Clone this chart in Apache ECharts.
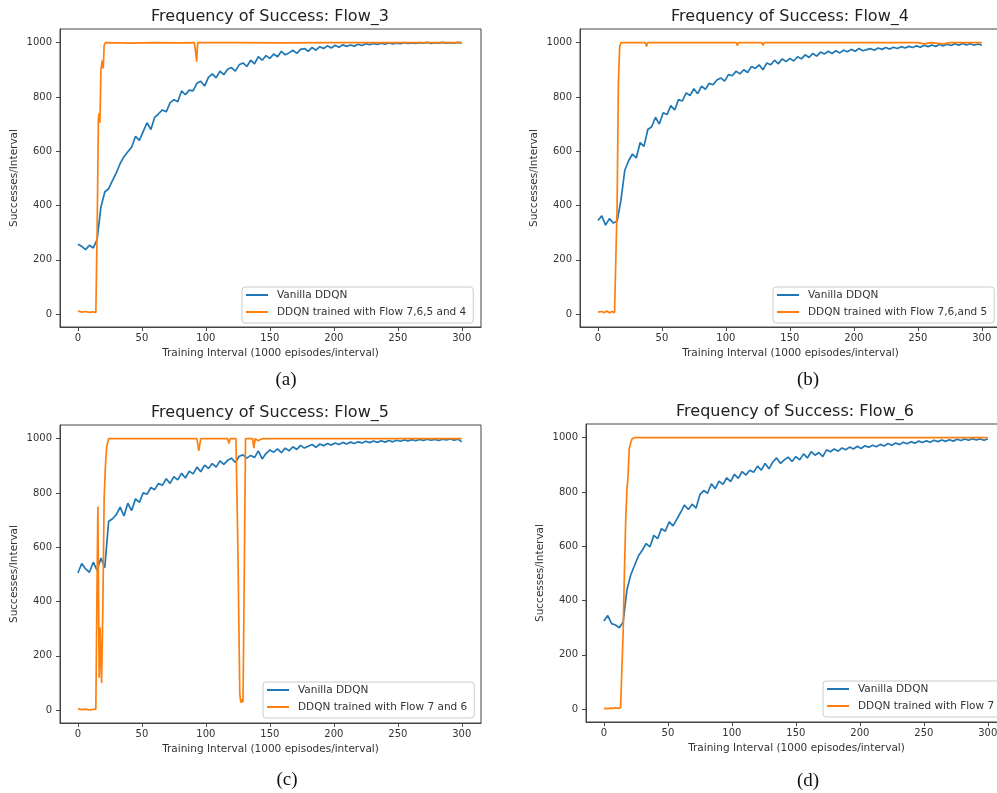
<!DOCTYPE html>
<html>
<head>
<meta charset="utf-8">
<title>Frequency of Success</title>
<script src="https://cdn.jsdelivr.net/npm/echarts@6.0.0/dist/echarts.min.js"></script>
<style>
  html, body { margin: 0; padding: 0; background: #fff; }
  #chart { width: 997px; height: 793px; }
</style>
</head>
<body>
<div id="chart"></div>
<script>
/* ------------------------------------------------------------------ */
/*                 Frequency of Success: Flow_3 .. Flow_6              */
/* ------------------------------------------------------------------ */

const BLUE = '#1f77b4';
const ORANGE = '#ff7f0e';
const FONT = 'DejaVu Sans';

const xTicks = [0, 50, 100, 150, 200, 250, 300];
const yTicks = [0, 200, 400, 600, 800, 1000];

// training intervals sampled for the vanilla curves
const intervals = [0, 3, 6, 9, 12, 15, 18, 21, 24, 27, 30, 33, 36, 39, 42, 45, 48, 51, 54, 57,
  60, 63, 66, 69, 72, 75, 78, 81, 84, 87, 90, 93, 96, 99, 102, 105, 108, 111, 114, 117,
  120, 123, 126, 129, 132, 135, 138, 141, 144, 147, 150, 153, 156, 159, 162, 165, 168, 171, 174, 177,
  180, 183, 186, 189, 192, 195, 198, 201, 204, 207, 210, 213, 216, 219, 222, 225, 228, 231, 234, 237,
  240, 243, 246, 249, 252, 255, 258, 261, 264, 267, 270, 273, 276, 279, 282, 285, 288, 291, 294, 297, 300];

// Flow_3
const flow3Vanilla = [258, 250, 238, 254, 244, 275, 395, 450, 462, 492,
  520, 555, 580, 598, 615, 655, 640, 672, 705, 680,
  725, 738, 752, 745, 778, 790, 782, 822, 808, 825,
  822, 850, 858, 840, 872, 885, 870, 895, 882, 902,
  908, 895, 918, 925, 912, 935, 922, 948, 935, 952,
  942, 958, 948, 968, 955, 962, 972, 960, 975, 978,
  968, 982, 972, 985, 978, 988, 980, 990, 983, 992,
  986, 991, 987, 994, 989, 996, 992, 997, 993, 998,
  994, 999, 995, 998, 996, 1000, 997, 999, 997, 1000,
  998, 1001, 997, 1000, 998, 1001, 998, 1000, 998, 1001, 999];
const flow3TransferX = [0, 3, 6, 9, 12, 14, 15, 16, 16.6, 17.2, 18, 19, 19.8, 20.5, 21.5,
  40, 60, 80, 91, 92, 92.8, 93.6, 120, 160, 200, 240, 280, 300];
const flow3TransferY = [12, 8, 10, 7, 9, 6, 300, 720, 740, 705, 900, 935, 905, 990, 1000,
  998, 1000, 999, 1000, 965, 930, 1000, 1000, 999, 1000, 1000, 1000, 1000];

// Flow_4
const flow4Vanilla = [345, 362, 328, 352, 336, 342, 420, 530, 565, 590,
  575, 632, 618, 680, 690, 725, 700, 742, 735, 768,
  752, 790, 785, 815, 805, 830, 812, 840, 828, 850,
  845, 862, 870, 858, 882, 878, 895, 885, 900, 890,
  912, 905, 918, 900, 925, 918, 935, 922, 940, 930,
  942, 932, 948, 940, 955, 945, 960, 950, 965, 958,
  968, 960, 970, 962, 972, 966, 975, 968, 978, 970,
  974, 978, 972, 980, 975, 982, 976, 983, 978, 985,
  980, 986, 982, 988, 983, 990, 985, 991, 986, 993,
  988, 994, 989, 996, 990, 997, 991, 996, 990, 995, 990];
const flow4TransferX = [0, 3, 5, 7, 9, 11, 13, 14, 15, 16, 17, 18, 37, 38, 39,
  108, 109, 110, 128, 129, 130, 250, 255, 260, 270, 275, 300];
const flow4TransferY = [8, 10, 6, 12, 5, 10, 6, 8, 400, 850, 985, 1000, 1000, 986, 1000,
  1000, 990, 1000, 1000, 990, 1000, 1000, 995, 1000, 995, 1000, 1000];

// Flow_5
const flow5Vanilla = [505, 540, 520, 508, 545, 515, 560, 525, 695, 705,
  720, 748, 715, 762, 735, 778, 765, 800, 795, 820,
  812, 835, 828, 852, 835, 860, 848, 872, 855, 880,
  870, 895, 878, 902, 890, 908, 895, 918, 905, 920,
  928, 912, 935, 940, 928, 938, 930, 955, 925, 945,
  958, 950, 962, 948, 965, 955, 970, 960, 975, 965,
  972, 978, 968, 980, 974, 982, 976, 984, 978, 986,
  980, 987, 982, 988, 984, 990, 985, 991, 986, 992,
  987, 993, 988, 994, 990, 995, 991, 996, 992, 997,
  993, 998, 994, 997, 993, 998, 995, 999, 994, 998, 988];
const flow5TransferX = [0, 3, 6, 9, 12, 14, 15, 15.6, 16.6, 17.3, 18.5, 19.5, 20.5, 21.5, 22.5, 24,
  60, 93, 94.5, 96, 117, 118, 119, 123.5, 125, 126.5, 127.3, 128.2, 129, 130, 131,
  136.5, 137.5, 138.5, 141, 142, 143, 145, 200, 250, 300];
const flow5TransferY = [5, 2, 4, 1, 3, 4, 480, 750, 120, 305, 100, 380, 780, 900, 970, 1000,
  1000, 1000, 955, 1000, 1000, 982, 1000, 1000, 600, 60, 28, 40, 30, 500, 1000,
  1000, 965, 1000, 992, 985, 998, 1000, 1000, 1000, 1000];

// Flow_6
const flow6Vanilla = [325, 345, 315, 310, 300, 320, 440, 495, 530, 565,
  585, 610, 598, 640, 628, 665, 655, 690, 675, 700,
  725, 752, 735, 755, 740, 790, 805, 795, 830, 812,
  840, 828, 852, 838, 865, 850, 875, 862, 880, 872,
  895, 880, 905, 885, 910, 925, 905, 918, 928, 912,
  930, 918, 940, 925, 948, 935, 945, 930, 955, 948,
  958, 950, 962, 955, 965, 958, 968, 960, 970, 964,
  972, 966, 975, 969, 978, 972, 980, 974, 983, 977,
  985, 979, 987, 982, 988, 983, 990, 985, 991, 986,
  992, 987, 994, 989, 995, 990, 996, 991, 995, 990, 995];
const flow6TransferX = [0, 3, 5, 7, 9, 11, 13, 14, 15, 16, 17, 18, 18.7, 19.3, 19.8, 20.8, 22, 24,
  100, 200, 300];
const flow6TransferY = [3, 2, 4, 3, 5, 3, 6, 4, 280, 500, 690, 810, 845, 850, 960, 978, 995, 1000,
  1000, 1000, 1000];

const vanillaName = 'Vanilla DDQN';

const panels = [
  { title: 'Frequency of Success: Flow_3', caption: '(a)', transfer: 'DDQN trained with Flow 7,6,5 and 4',
    vanilla: flow3Vanilla, tx: flow3TransferX, ty: flow3TransferY,
    grid: { left: 60, top: 29 }, titleAt: [270, 17], captionAt: [286, 380], legendAt: [242, 287] },
  { title: 'Frequency of Success: Flow_4', caption: '(b)', transfer: 'DDQN trained with Flow 7,6,and 5',
    vanilla: flow4Vanilla, tx: flow4TransferX, ty: flow4TransferY,
    grid: { left: 580, top: 29 }, titleAt: [790, 17], captionAt: [808, 380], legendAt: [773, 287] },
  { title: 'Frequency of Success: Flow_5', caption: '(c)', transfer: 'DDQN trained with Flow 7 and 6',
    vanilla: flow5Vanilla, tx: flow5TransferX, ty: flow5TransferY,
    grid: { left: 60, top: 425 }, titleAt: [270, 413], captionAt: [287, 780], legendAt: [263, 682] },
  { title: 'Frequency of Success: Flow_6', caption: '(d)', transfer: 'DDQN trained with Flow 7',
    vanilla: flow6Vanilla, tx: flow6TransferX, ty: flow6TransferY,
    grid: { left: 586, top: 424 }, titleAt: [795, 412], captionAt: [808, 781], legendAt: [823, 681] }
];

const axisText = { fontFamily: FONT, fontSize: 10, color: '#333', formatter: (v) => String(v) };

const chart = echarts.init(document.getElementById('chart'), null, { renderer: 'canvas' });

const option = {
  animation: false,
  backgroundColor: '#fff',
  grid: [],
  xAxis: [],
  yAxis: [],
  legend: [],
  series: [],
  graphic: []
};

panels.forEach((p, i) => {
  option.grid.push({
    left: p.grid.left,
    top: p.grid.top,
    width: 421,
    height: 298,
    containLabel: false,
    outerBoundsMode: 'none',
    show: true,
    borderColor: '#444',
    borderWidth: 1,
    backgroundColor: 'transparent'
  });

  option.xAxis.push({
    type: 'value',
    gridIndex: i,
    min: -14,
    max: 315,
    name: 'Training Interval (1000 episodes/interval)',
    nameLocation: 'middle',
    nameGap: 21,
    nameTextStyle: { fontFamily: FONT, fontSize: 10.5, color: '#333' },
    axisLine: { show: true, onZero: false, lineStyle: { color: '#444', width: 1 } },
    axisTick: { show: true, length: 4, customValues: xTicks, lineStyle: { color: '#444' } },
    axisLabel: Object.assign({ margin: 6, customValues: xTicks }, axisText),
    splitLine: { show: false }
  });

  option.yAxis.push({
    type: 'value',
    gridIndex: i,
    min: -47,
    max: 1050,
    name: 'Successes/Interval',
    nameLocation: 'middle',
    nameGap: 40,
    nameTextStyle: { fontFamily: FONT, fontSize: 10.5, color: '#333' },
    axisLine: { show: true, onZero: false, lineStyle: { color: '#444', width: 1 } },
    axisTick: { show: true, length: 4, customValues: yTicks, lineStyle: { color: '#444' } },
    axisLabel: Object.assign({ margin: 8, customValues: yTicks }, axisText),
    splitLine: { show: false }
  });

  option.legend.push({
    data: [vanillaName, p.transfer],
    orient: 'vertical',
    left: p.legendAt[0],
    top: p.legendAt[1],
    icon: 'rect',
    itemWidth: 22,
    itemHeight: 2,
    itemGap: 5,
    padding: [2, 7, 5, 4],
    backgroundColor: '#fff',
    borderColor: '#ccc',
    borderWidth: 1,
    borderRadius: 3,
    selectedMode: false,
    textStyle: { fontFamily: FONT, fontSize: 10.5, color: '#333', lineHeight: 12, padding: [0, 0, 0, 4] }
  });

  option.series.push({
    name: vanillaName,
    type: 'line',
    xAxisIndex: i,
    yAxisIndex: i,
    symbol: 'none',
    showSymbol: false,
    itemStyle: { color: BLUE },
    lineStyle: { color: BLUE, width: 1.7 },
    data: p.vanilla.map((v, k) => [intervals[k], v])
  });

  option.series.push({
    name: p.transfer,
    type: 'line',
    xAxisIndex: i,
    yAxisIndex: i,
    symbol: 'none',
    showSymbol: false,
    itemStyle: { color: ORANGE },
    lineStyle: { color: ORANGE, width: 1.7 },
    data: p.tx.map((x, k) => [x, p.ty[k]])
  });

  option.graphic.push({
    type: 'text',
    x: p.titleAt[0],
    y: p.titleAt[1],
    style: { text: p.title, font: '16px "DejaVu Sans"', fill: '#222', align: 'center', verticalAlign: 'middle' }
  });

  option.graphic.push({
    type: 'text',
    x: p.captionAt[0],
    y: p.captionAt[1],
    style: { text: p.caption, font: '19px "Liberation Serif"', fill: '#111', align: 'center', verticalAlign: 'middle' }
  });
});

chart.setOption(option);
</script>
</body>
</html>
